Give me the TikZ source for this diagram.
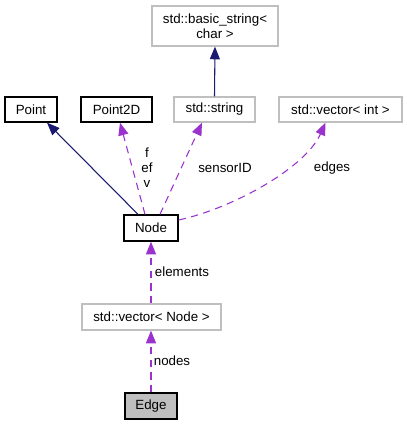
\documentclass[tikz,border=0pt]{standalone}
\usepackage{fontspec}
\setmainfont{Liberation Sans}
\usetikzlibrary{arrows.meta,calc}
\definecolor{navy}{HTML}{191970}
\definecolor{dpurple}{HTML}{9A32CD}
\definecolor{gborder}{HTML}{BFBFBF}
\definecolor{efill}{HTML}{BFBFBF}
\begin{document}
\begin{tikzpicture}[x=0.75pt,y=-0.75pt,
  font=\fontsize{10pt}{11.25pt}\selectfont,
  box/.style={draw=black,line width=1pt,fill=white,inner sep=0pt,align=center},
  gbox/.style={draw=gborder,line width=0.9pt,fill=white,inner sep=0pt,align=center},
  inh/.style={draw=navy,line width=0.8pt,-{Triangle[length=9.5pt,width=7.5pt]}},
  use/.style={draw=dpurple,line width=0.8pt,dash pattern=on 5.5pt off 4pt,-{Triangle[length=9.5pt,width=7.5pt]}},
  lbl/.style={inner sep=0pt,align=center}]
\useasboundingbox (0,0) rectangle (407,425);
\node[gbox,minimum width=94.5pt,minimum height=30pt] (bs) at (215,26) {std::basic\_string<\\char >};
\node[box,minimum width=39pt,minimum height=18.75pt] (pt) at (31,109.5) {Point};
\node[box,minimum width=53.25pt,minimum height=18.75pt] (p2d) at (116.5,109.5) {Point2D};
\node[gbox,minimum width=60.75pt,minimum height=18.75pt] (str) at (214.5,109.5) {std::string};
\node[gbox,minimum width=92.25pt,minimum height=18.75pt] (vint) at (340.5,109.5) {std::vector< int >};
\node[box,minimum width=40.5pt,minimum height=19.5pt] (nd) at (151,228) {Node};
\node[gbox,minimum width=104.25pt,minimum height=19.5pt] (vn) at (151.5,317) {std::vector< Node >};
\node[box,fill=efill,minimum width=39pt,minimum height=19.5pt] (edge) at (151,406) {Edge};
% connectors
\draw[inh] (str.north) -- (bs.south);
\draw[inh] ($(nd.north)+(-13,0)$) -- ($(pt.south)+(16,0)$);
\draw[use] ($(nd.north)+(-6,0)$) -- ($(p2d.south)+(3.5,0)$);
\draw[use] ($(nd.north)+(9,0)$) -- ($(str.south)+(-12.5,0)$);
\draw[use] ($(nd.east)+(0,-8)$) .. controls ($(nd.east)+(55,-20)$) and ($(vint.south)+(-35,45)$) .. ($(vint.south)+(-15,0)$);
\draw[use] (vn.north -| nd.south) -- (nd.south);
\draw[use] (edge.north) -- (edge.north |- vn.south);
% labels
\node[lbl] (lf) at (147,168) {f\\ef\\v};
\node[lbl] (ls) at (225,168) {sensorID};
\node[lbl] (le) at (332,168) {edges};
\node[lbl] (lel) at (182,272) {elements};
\node[lbl] (lno) at (172,361) {nodes};
\end{tikzpicture}
\end{document}
